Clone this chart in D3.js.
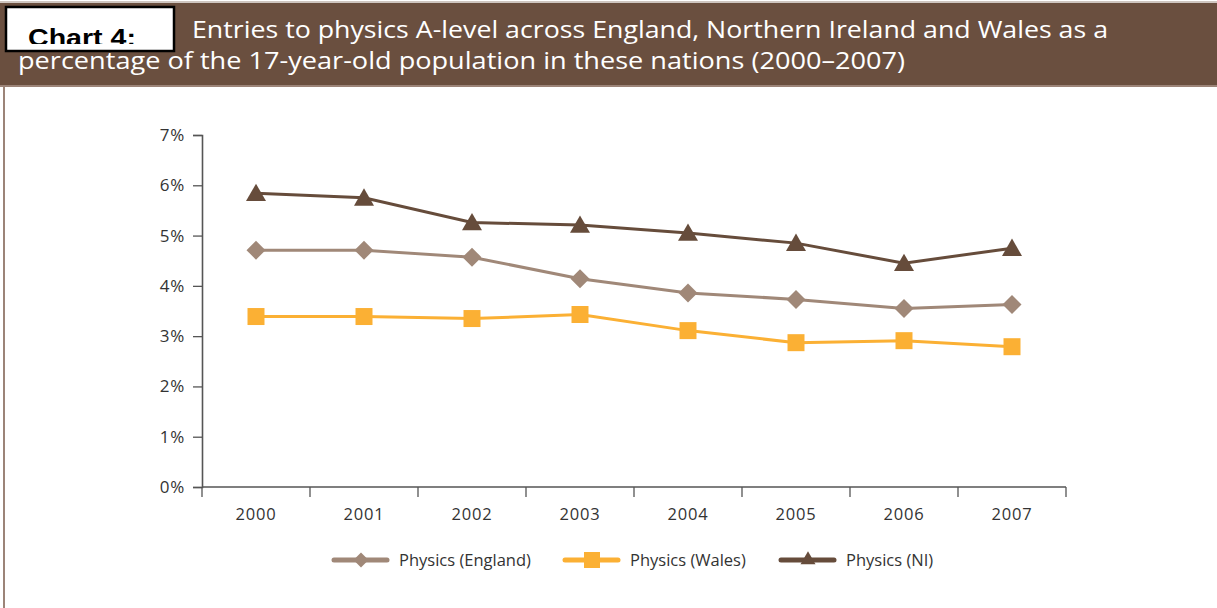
<!DOCTYPE html>
<html>
<head>
<meta charset="utf-8">
<script src="https://cdn.jsdelivr.net/npm/d3@7"></script>
<style>
  body { margin: 0; background: #fff; }
  svg { display: block; }
</style>
</head>
<body>
<div id="chart"></div>
<script>
const width = 1217, height = 608;

// data
const years = ["2000", "2001", "2002", "2003", "2004", "2005", "2006", "2007"];
const england = [4.71, 4.71, 4.57, 4.14, 3.86, 3.73, 3.55, 3.63];
const wales = [3.39, 3.39, 3.35, 3.43, 3.11, 2.87, 2.91, 2.79];
const ni = [5.84, 5.75, 5.26, 5.21, 5.05, 4.85, 4.45, 4.75];
const yTicks = [0, 1, 2, 3, 4, 5, 6, 7];

const series = [
  { name: "Physics (England)", values: england, color: "#a08878", shape: "diamond" },
  { name: "Physics (Wales)", values: wales, color: "#fbb034", shape: "square" },
  { name: "Physics (NI)", values: ni, color: "#664c3b", shape: "triangle" }
];

var svg = d3.select("#chart").append("svg")
  .attr("width", width)
  .attr("height", height);

// header band
svg.append("rect").attr("x", 0).attr("y", 1).attr("width", width).attr("height", 2).attr("fill", "#cfc6c0");
svg.append("rect").attr("x", 0).attr("y", 3).attr("width", width).attr("height", 82).attr("fill", "#6a4f3f");
svg.append("rect").attr("x", 0).attr("y", 85).attr("width", width).attr("height", 2).attr("fill", "#9c8478");
svg.append("rect").attr("x", 3).attr("y", 87).attr("width", 2).attr("height", height - 87).attr("fill", "#9c8478");

var title = svg.append("g")
  .style("font-family", "'Open Sans', sans-serif")
  .style("font-size", "23px")
  .attr("fill", "#fff");
title.append("text").attr("x", 192).attr("y", 38)
  .attr("textLength", 916).attr("lengthAdjust", "spacingAndGlyphs")
  .text("Entries to physics A-level across England, Northern Ireland and Wales as a");
title.append("text").attr("x", 18).attr("y", 69)
  .attr("textLength", 887).attr("lengthAdjust", "spacingAndGlyphs")
  .text("percentage of the 17-year-old population in these nations (2000\u20132007)");

// "Chart 4:" box, the label is cut off at the bottom like in the source
svg.append("clipPath").attr("id", "boxclip")
  .append("rect").attr("x", 6).attr("y", 6).attr("width", 168).attr("height", 38);
svg.append("rect").attr("x", 6).attr("y", 7).attr("width", 168).attr("height", 44)
  .attr("fill", "#fff").attr("stroke", "#000").attr("stroke-width", 2.5);
svg.append("text").attr("x", 28).attr("y", 46)
  .attr("clip-path", "url(#boxclip)")
  .style("font-family", "'Liberation Sans', Arial, sans-serif")
  .style("font-weight", "bold").style("font-size", "24px")
  .attr("textLength", 108).attr("lengthAdjust", "spacingAndGlyphs")
  .attr("fill", "#000").text("Chart 4:");

// scales
var x = d3.scaleBand().domain(years).range([202, 1066]);
var y = d3.scaleLinear().domain([0, 7]).range([487, 135]);

var axisColor = "#555";
var labelFont = "'Open Sans', sans-serif";

var yAxis = svg.append("g")
  .attr("transform", "translate(202,0)")
  .call(d3.axisLeft(y).tickValues(yTicks).tickSize(9).tickPadding(8).tickFormat(d => d + "%"));
var xAxis = svg.append("g")
  .attr("transform", "translate(0,487)")
  .call(d3.axisBottom(x).tickSize(0).tickPadding(21));

// boundary ticks on x axis
xAxis.selectAll(".edge")
  .data(d3.range(years.length + 1))
  .join("line")
  .attr("class", "edge")
  .attr("x1", i => 202 + i * x.step()).attr("x2", i => 202 + i * x.step())
  .attr("y1", 0).attr("y2", 10)
  .attr("stroke", axisColor).attr("stroke-width", 1.3);

[xAxis, yAxis].forEach(function (a) {
  a.attr("font-size", null).attr("font-family", null);
  a.select(".domain").attr("stroke", axisColor).attr("stroke-width", 1.6);
  a.selectAll(".tick line").attr("stroke", axisColor).attr("stroke-width", 1.3);
  a.selectAll("text")
    .attr("fill", "#333")
    .style("font-family", labelFont)
    .style("font-size", "16.5px")
    .style("letter-spacing", "0.8px");
});
yAxis.selectAll("text").style("font-size", "17px");
xAxis.select(".domain").attr("d", "M202,0H1066");

function markerPath(shape, s) {
  if (shape === "square") return d3.symbol(d3.symbolSquare, s * s)();
  if (shape === "diamond") return d3.symbol(d3.symbolSquare, (s * s) / 2)();
  return d3.symbol(d3.symbolTriangle, s * s * 0.433)();
}
function markerRotate(shape) { return shape === "diamond" ? " rotate(45)" : ""; }

var line = d3.line()
  .x((d, i) => x(years[i]) + x.bandwidth() / 2)
  .y(d => y(d));

series.forEach(function (s) {
  var sizes = { square: 17, diamond: 19, triangle: 20 };
  svg.append("path")
    .attr("d", line(s.values))
    .attr("fill", "none")
    .attr("stroke", s.color)
    .attr("stroke-width", 3);
  svg.append("g").selectAll("path")
    .data(s.values)
    .join("path")
    .attr("transform", (d, i) => "translate(" + (x(years[i]) + x.bandwidth() / 2) + "," + (y(d) + (s.shape === "triangle" ? 2 : 0)) + ")" + markerRotate(s.shape))
    .attr("d", markerPath(s.shape, sizes[s.shape]))
    .attr("fill", s.color);
});

// legend
var legendX = [334, 565, 781];
var legend = svg.append("g");
series.forEach(function (s, i) {
  var g = legend.append("g").attr("transform", "translate(" + legendX[i] + ",560)");
  var sizes = { square: 16, diamond: 15, triangle: 15 };
  g.append("line").attr("x1", 0).attr("x2", 53).attr("y1", 0).attr("y2", 0)
    .attr("stroke", s.color).attr("stroke-width", 5).attr("stroke-linecap", "round");
  g.append("path")
    .attr("transform", "translate(27,0)" + markerRotate(s.shape))
    .attr("d", markerPath(s.shape, sizes[s.shape]))
    .attr("fill", s.color);
  g.append("text").attr("x", 65).attr("y", 6)
    .attr("fill", "#333")
    .style("font-family", labelFont)
    .style("font-size", "16.5px")
    .text(s.name);
});
</script>
</body>
</html>
